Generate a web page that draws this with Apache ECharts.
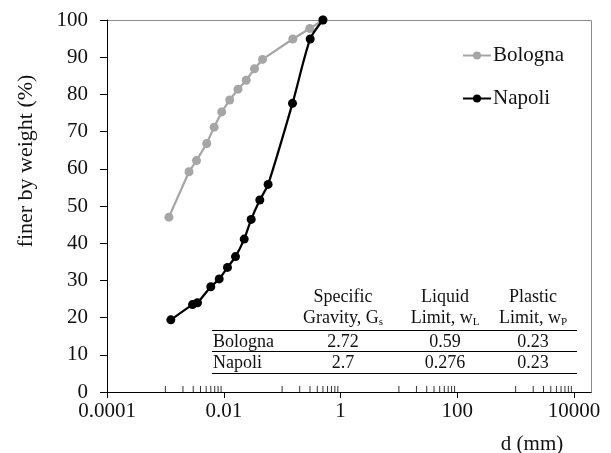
<!DOCTYPE html>
<html>
<head>
<meta charset="utf-8">
<script src="https://cdn.jsdelivr.net/npm/echarts@6/dist/echarts.min.js"></script>
<style>
  html, body { margin: 0; padding: 0; background: #fff; }
  #chart { width: 611px; height: 453px; }
</style>
</head>
<body>
<div id="chart"></div>
<script>
// Grain-size distribution: particle diameter (mm) vs. percent finer by weight
const seriesNames = ['Bologna', 'Napoli'];

const bolognaD   = [0.00115, 0.00254, 0.00341, 0.00511, 0.00684, 0.00923, 0.01265, 0.01754, 0.02425, 0.03365, 0.04612, 0.1524, 0.298, 0.5];
const bolognaPct = [47.0, 59.2, 62.2, 66.8, 71.2, 75.3, 78.5, 81.4, 83.8, 86.9, 89.4, 94.9, 97.7, 100];

const napoliD   = [0.00124, 0.00292, 0.00355, 0.0060, 0.00836, 0.01159, 0.01589, 0.0224, 0.02953, 0.04146, 0.05752, 0.1506, 0.3027, 0.5];
const napoliPct = [19.4, 23.5, 24.0, 28.3, 30.4, 33.5, 36.4, 41.1, 46.4, 51.6, 55.8, 77.6, 94.9, 100];

// Axis tick labels
const xTickLabels = ['0.0001', '0.01', '1', '100', '10000'];
const xTickExponents = [-4, -2, 0, 2, 4];
// Minor ticks: 1..9 times the base of each labelled two-decade band
const minorTickBases = [0.001, 0.1, 10, 1000];
const minorTickSteps = [1, 2, 3, 4, 5, 6, 7, 8, 9];

// Soil property table
const tableHead1 = ['Specific', 'Liquid', 'Plastic'];
const tableHead2 = [['Gravity, G', 's'], ['Limit, w', 'L'], ['Limit, w', 'P']];
const tableRows = [
  ['Bologna', '2.72', '0.59', '0.23'],
  ['Napoli', '2.7', '0.276', '0.23']
];

const FONT = '"Liberation Serif", "Times New Roman", serif';
const TXT = '#111';
const TFS = 18; // table font size

const minorTicks = [];
minorTickBases.forEach(b => minorTickSteps.forEach(s => minorTicks.push([b * s, 0])));

const pairs = (xs, ys) => xs.map((x, i) => [x, ys[i]]);

// Table drawn as text + rules
const colX = [343, 445, 533];
const tableGraphics = [];
tableHead1.forEach((t, i) => tableGraphics.push({
  type: 'text', x: colX[i], y: 297, silent: true,
  style: { text: t, font: TFS + 'px ' + FONT, fill: TXT, align: 'center', verticalAlign: 'middle' }
}));
tableHead2.forEach((t, i) => tableGraphics.push({
  type: 'text', x: colX[i], y: 318, silent: true,
  style: {
    text: '{m|' + t[0] + '}{s|' + t[1] + '}',
    align: 'center', verticalAlign: 'middle',
    rich: {
      m: { fontSize: TFS, fontFamily: FONT, fill: TXT, lineHeight: 20 },
      s: { fontSize: 11, fontFamily: FONT, fill: TXT, verticalAlign: 'bottom', lineHeight: 14, padding: [6, 0, 0, 0] }
    }
  }
}));
[330, 351, 373].forEach(y => tableGraphics.push({
  type: 'line', silent: true,
  shape: { x1: 212, y1: y + 0.5, x2: 577, y2: y + 0.5 },
  style: { stroke: '#000', lineWidth: 1 }
}));
tableRows.forEach((row, r) => {
  const y = 342 + r * 21.5;
  tableGraphics.push({
    type: 'text', x: 213, y: y, silent: true,
    style: { text: row[0], font: TFS + 'px ' + FONT, fill: TXT, align: 'left', verticalAlign: 'middle' }
  });
  row.slice(1).forEach((v, i) => tableGraphics.push({
    type: 'text', x: colX[i], y: y, silent: true,
    style: { text: v, font: TFS + 'px ' + FONT, fill: TXT, align: 'center', verticalAlign: 'middle' }
  }));
});

const chart = echarts.init(document.getElementById('chart'), null, { renderer: 'canvas' });

chart.setOption({
  animation: false,
  backgroundColor: '#fff',
  grid: { left: 107, right: 37, top: 20, bottom: 61 },
  legend: {
    data: seriesNames,
    orient: 'vertical',
    left: 457, top: 40,
    itemWidth: 28, itemHeight: 10, itemGap: 22,
    textStyle: { fontFamily: FONT, fontSize: 21, color: TXT, padding: [0, 0, 0, -3] }
  },
  xAxis: {
    type: 'log', logBase: 10,
    min: 0.0001, max: 10000, interval: 2,
    axisLine: { show: true, onZero: false, lineStyle: { color: '#000', width: 1 } },
    axisTick: { show: true, length: 6, lineStyle: { color: '#000' } },
    axisLabel: {
      fontFamily: FONT, fontSize: 21, color: TXT, margin: 9,
      formatter: v => {
        const k = xTickExponents.indexOf(Math.round(Math.log10(v)));
        return k >= 0 ? xTickLabels[k] : '';
      }
    },
    splitLine: { show: false },
    minorTick: { show: false }
  },
  yAxis: {
    type: 'value', min: 0, max: 100, interval: 10,
    axisLine: { show: true, lineStyle: { color: '#000', width: 1 } },
    axisTick: { show: true, length: 7, lineStyle: { color: '#000' } },
    axisLabel: { fontFamily: FONT, fontSize: 21, color: TXT, margin: 19 },
    splitLine: { show: false }
  },
  series: [
    {
      name: 'Bologna', type: 'line',
      data: pairs(bolognaD, bolognaPct),
      symbol: 'circle', symbolSize: 9,
      itemStyle: { color: '#A6A6A6' },
      lineStyle: { color: '#A6A6A6', width: 2.25 },
      z: 3
    },
    {
      name: 'Napoli', type: 'line',
      data: pairs(napoliD, napoliPct),
      symbol: 'circle', symbolSize: 9,
      smooth: 0.25,
      itemStyle: { color: '#000' },
      lineStyle: { color: '#000', width: 2.25 },
      z: 4
    },
    {
      name: 'minor ticks', type: 'scatter',
      data: minorTicks,
      symbol: 'rect', symbolSize: [1, 6], symbolOffset: [0, -3],
      itemStyle: { color: '#000' },
      silent: true, z: 1
    }
  ],
  graphic: [
    // chart frame: top and right borders, axis line run-out
    { type: 'line', silent: true, shape: { x1: 107, y1: 20.5, x2: 591.5, y2: 20.5 }, style: { stroke: '#8a8a8a', lineWidth: 1 } },
    { type: 'line', silent: true, shape: { x1: 591.5, y1: 20.5, x2: 591.5, y2: 392.5 }, style: { stroke: '#8a8a8a', lineWidth: 1 } },
    { type: 'line', silent: true, shape: { x1: 574, y1: 392.5, x2: 591.5, y2: 392.5 }, style: { stroke: '#000', lineWidth: 1 } },
    // axis titles
    {
      type: 'text', x: 26, y: 161, rotation: Math.PI / 2, silent: true,
      style: { text: 'finer by weight (%)', font: '22px ' + FONT, fill: TXT, align: 'center', verticalAlign: 'middle' }
    },
    {
      type: 'text', x: 532, y: 444, silent: true,
      style: { text: 'd (mm)', font: '21px ' + FONT, fill: TXT, align: 'center', verticalAlign: 'middle' }
    },
    ...tableGraphics
  ]
});
</script>
</body>
</html>
